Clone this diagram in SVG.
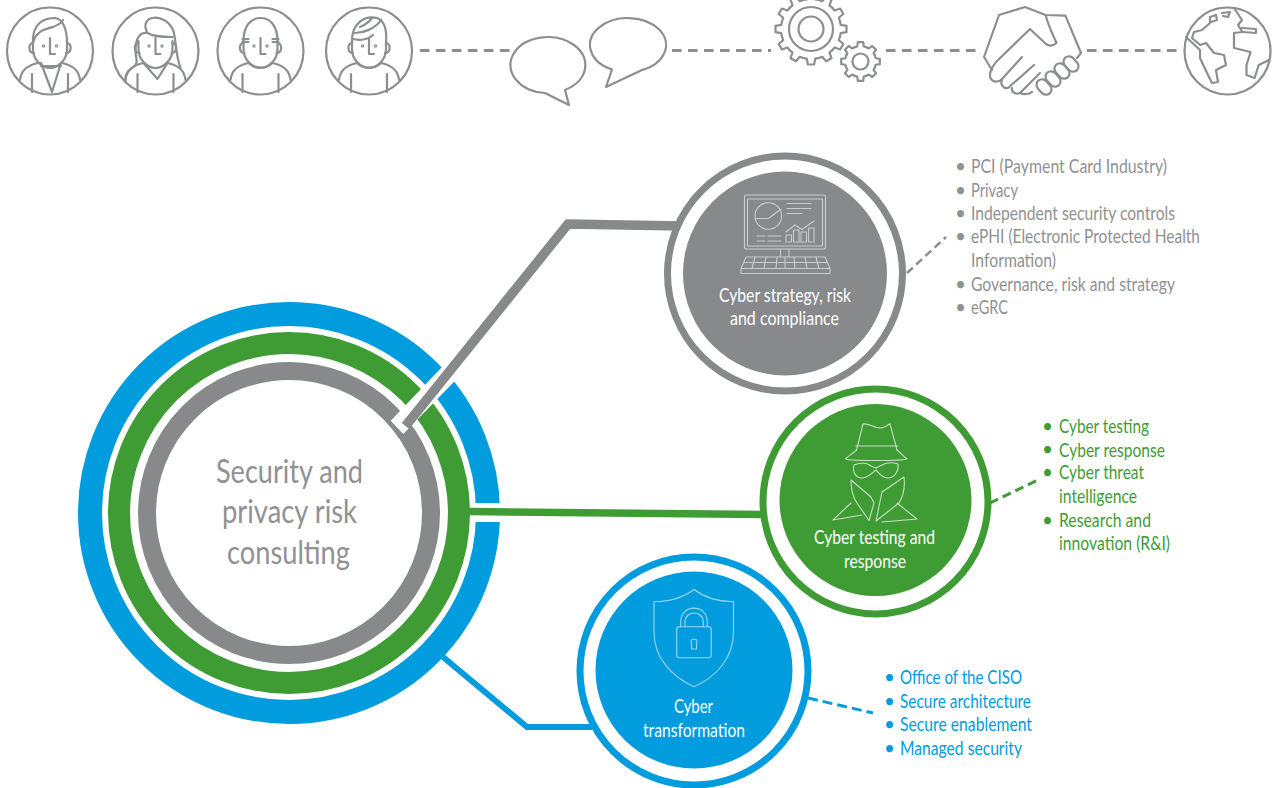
<svg xmlns="http://www.w3.org/2000/svg" xmlns:xlink="http://www.w3.org/1999/xlink" width="1274" height="788" viewBox="0 0 1274 788">
<style>
text{font-family:Lato,"Open Sans","Liberation Sans",sans-serif}
.ic{fill:none;stroke:#8c8e90;stroke-width:2.2;stroke-linejoin:round;stroke-linecap:round}
.wi{fill:none;stroke-width:1.1;stroke-linejoin:round;stroke-linecap:round}
.ring{fill:none}
.nt{font-size:19px;fill:#fff;text-anchor:start}
.big{font-size:33px;fill:#8f9193}
.lg{font-size:19px;fill:#8f9193}
.lgn{font-size:19px;fill:#3f9c35}
.lb{font-size:19px;fill:#009cde}
.dash{fill:none;stroke:#8c8e90;stroke-width:3;stroke-dasharray:9.5 6.5}
</style>
<defs>
<g id="pb" class="ic">
<ellipse rx="43" ry="43.5"/>
<path d="M-17,-8C-22,-8-22,2-16,2M17,-8C22,-8 22,2 16,2"/>
<path d="M0,-13L0,3L5,3"/>
<circle cx="-6.5" cy="-5" r=".6"/><circle cx="6.5" cy="-5" r=".6"/>
<path d="M-30,29C-29,19-22,14-12,12M30,29C29,19 22,14 12,12M-18,41L-18,23M18,41L18,23"/>
<path d="M-17,-10L-17,-2C-17,9-8,17 0,17C8,17 17,9 17,-2L17,-10"/>
</g>
<path id="t1" d="M-7.76,-28.98L-4.18,-29.7L-3.14,-35.5L3.14,-35.5L4.18,-29.7L7.76,-28.98"/>
<path id="t2" d="M-5.93,-14.32L-3.22,-15.16L-2.71,-19.31L2.71,-19.31L3.22,-15.16L5.93,-14.32"/>
<rect id="fg" x="-8.5" y="-5.5" width="17" height="11" rx="5.5"/>
</defs>

<g id="top-connectors">
<path class="dash" d="M420,50.5H510M672,50.5H771M886,50.5H979M1087,50.5H1180"/>
</g>

<g id="person-1" transform="translate(50,51)">
<use href="#pb"/>
<path class="ic" d="M-17,-8C-18,-28-6,-33 5,-33C13,-32 17,-22 17,-8M-17,-8C-14,-20-5,-22 3,-24C8,-26 12,-28 13,-31M-9,12L2,41L11,12M-9,15L11,15"/>
</g>
<g id="person-2" transform="translate(155.500,51)">
<use href="#pb"/>
<path class="ic" d="M-8,-18C-18,-36 10,-40 18,-20C21,-8 20,4 25,17M-8,-18C-18,-20-20,-8-20,0C-20,8-17,10-20,14C-24,18-31,20-30,30M-8,-18C-2,-14 10,-14 17,-14M-12,12L2,28L12,12"/>
</g>
<g id="person-3" transform="translate(260.500,51)">
<use href="#pb"/>
<path class="ic" d="M-17,-10C-17,-26-9,-33 0,-33C9,-33 17,-26 17,-10M-18,-12H-12M-18,-9H-12M12,-12H18M12,-9H18M-12,12C-6,18 6,18 12,12"/>
</g>
<g id="person-4" transform="translate(369,51)">
<use href="#pb"/>
<path class="ic" d="M-17,-8C-18,-28-4,-36 8,-33C16,-30 18,-20 17,-8M-14,-18C-6,-18 6,-22 12,-31M-16,-12C-8,-10 0,-12 4,-16M-9,-24C-4,-26 0,-29 3,-33M-12,12C-6,18 6,18 12,12"/>
</g>

<g id="speech-bubbles" class="ic">
<path d="M565,90L569,105L545,93A37.500,28 0 1 1 565,90Z"/>
<path d="M612,69.500L606,87L641,70.400A38,27 0 1 0 612,69.500Z"/>
</g>

<g id="gears" class="ic">
<g transform="translate(811,29)">
<circle r="22"/><circle r="12.500"/>
<use href="#t1"/><use href="#t1" transform="rotate(30)"/><use href="#t1" transform="rotate(60)"/><use href="#t1" transform="rotate(90)"/><use href="#t1" transform="rotate(120)"/><use href="#t1" transform="rotate(150)"/><use href="#t1" transform="rotate(180)"/><use href="#t1" transform="rotate(210)"/><use href="#t1" transform="rotate(240)"/><use href="#t1" transform="rotate(270)"/><use href="#t1" transform="rotate(300)"/><use href="#t1" transform="rotate(330)"/>
</g>
<g transform="translate(860.500,61.500)">
<circle r="8"/>
<use href="#t2"/><use href="#t2" transform="rotate(45)"/><use href="#t2" transform="rotate(90)"/><use href="#t2" transform="rotate(135)"/><use href="#t2" transform="rotate(180)"/><use href="#t2" transform="rotate(225)"/><use href="#t2" transform="rotate(270)"/><use href="#t2" transform="rotate(315)"/>
</g>
</g>

<g id="handshake" class="ic">
<path d="M992,70L984,57L999,15L1025,7L1045.600,15L1065.400,15.700L1081,53L1077,58"/>
<path d="M1045.600,15C1048,25 1053,35 1056.500,43C1053,46 1049,46 1046,44L1030,29L996,62L992,68C990,72 989,76 991,79C994,83 999,82 1002,79L1022,57M1002,80C1000,84 1003,89 1008,88L1034,65M1012,88C1011,92 1016,95 1020,93L1040,73M1020,93C1024,95 1030,94 1032,92"/>
<use href="#fg" transform="translate(1071,64) rotate(48)"/>
<use href="#fg" transform="translate(1062,71) rotate(48)"/>
<use href="#fg" transform="translate(1053,79) rotate(48)"/>
<use href="#fg" transform="translate(1044,87) rotate(48)"/>
</g>

<g id="globe" class="ic">
<ellipse cx="1227.500" cy="51" rx="43" ry="43.500"/>
<path d="M1210,17L1210,23L1202,30L1194,32L1192,38L1200,45L1206,43L1214,53L1224,55L1226,65L1216,70L1218,82L1212,83L1208,75L1200,58L1200,50L1186,37"/>
<path d="M1234,8L1242,20L1238,25L1242.500,32L1234,33L1234,48L1250.600,52L1246.500,65L1246.500,75L1254.600,78L1258.700,65L1269,60"/>
<path d="M1210,17L1216,15L1217,20L1211,22M1222,13L1230,12L1228,17L1223,16M1242,28L1256,29L1256,33L1243,32"/>
</g>

<g id="central-node">
<circle class="ring" cx="289" cy="513" r="199" stroke="#009cde" stroke-width="24"/>
<circle class="ring" cx="289" cy="513" r="170" stroke="#3f9c35" stroke-width="22"/>
<circle class="ring" cx="289" cy="513" r="142" stroke="#87898b" stroke-width="18"/>
<polygon points="390.700,420.700 403.300,434 480,355 465,343" fill="#fff"/>
<rect x="470" y="503" width="32" height="19" fill="#fff"/>
<text class="big" x="216" y="483" textLength="147" lengthAdjust="spacingAndGlyphs">Security and</text>
<text class="big" x="222" y="523" textLength="135" lengthAdjust="spacingAndGlyphs">privacy risk</text>
<text class="big" x="227" y="564" textLength="123" lengthAdjust="spacingAndGlyphs">consulting</text>
</g>

<g id="connectors" fill="none" stroke-linejoin="miter">
<polyline points="405.500,426 568,224 682,226" stroke="#87898b" stroke-width="9.500"/>
<polyline points="470,511.500 764,514.500" stroke="#3f9c35" stroke-width="7.500"/>
<polyline points="443,657 527,727 592,727" stroke="#009cde" stroke-width="6"/>
<path d="M907,273L946,237" stroke="#8c8e90" stroke-width="2.500" stroke-dasharray="8 4.500"/>
<path d="M990,503L1040,479" stroke="#3f9c35" stroke-width="3" stroke-dasharray="9 5"/>
<path d="M808,698L873,713" stroke="#009cde" stroke-width="3" stroke-dasharray="10 5"/>
</g>

<g id="node-strategy">
<circle cx="785" cy="273.500" r="117.500" fill="#fff" stroke="#87898b" stroke-width="7"/>
<circle cx="785" cy="273.500" r="102" fill="#87898b"/>
<g class="wi" stroke="#c9cbcc">
<rect x="744.500" y="195" width="81" height="54" rx="2"/>
<rect x="747.500" y="199" width="75" height="47"/>
<circle cx="768.300" cy="216" r="13.300"/>
<path d="M755,218.500H768.500L781,209M787,203.500H811M787,208.500H811M787,213.500H802M757,236H765M768,236H781M757,241H765M768,241H781"/>
<path d="M786,232L795,225L802,229.500L814,221"/>
<rect x="786" y="235" width="5.500" height="7"/><rect x="793.500" y="230" width="5.500" height="12"/><rect x="801" y="232" width="5.500" height="10"/><rect x="808.500" y="228" width="5.500" height="14"/>
<path d="M780.500,249V257M789,249V257"/>
<path d="M746,257H825L830,268.500H741ZM741,268.500V273.500H830V268.500M744,262.500H827"/>
<path d="M755,257L752,268.500M766,257L764,268.500M777,257L776,268.500M785,257V268.500M794,257L795,268.500M805,257L807,268.500M816,257L819,268.500"/>
</g>
<text class="nt" x="719" y="302" textLength="132" lengthAdjust="spacingAndGlyphs">Cyber strategy, risk</text>
<text class="nt" x="730" y="325" textLength="109" lengthAdjust="spacingAndGlyphs">and compliance</text>
</g>

<g id="node-testing">
<circle cx="875.500" cy="501.500" r="112.500" fill="#fff" stroke="#3f9c35" stroke-width="7"/>
<circle cx="875.500" cy="500" r="96" fill="#3f9c35"/>
<g class="wi" stroke="#c5e0c1">
<path d="M856.500,450L863,424C868,423 875,428 880,428C885,428 890,423 890,424L897,450"/>
<path d="M856,446H898M856.500,450C852,454 847,457 845.500,459C850,461 900,461 907,459C904,457 901,453 897,450"/>
<path d="M854,465C860,462 868,463 871,466L876,468L880,466C885,463 892,462 898,464C899,470 895,478 888,478C882,478 878,472 876,470C873,472 868,478 862,478C856,478 852,472 854,465Z"/>
<path d="M851,480L871,497L874,503L869,520.500L857,503C852,496 851,488 851,480Z"/>
<path d="M904,477L882,492L876,521L899,503C904,495 905,486 904,477Z"/>
<path d="M851,503L833,520L862,515M897,503L917,519L882,522"/>
</g>
<text class="nt" x="814" y="544" textLength="121" lengthAdjust="spacingAndGlyphs">Cyber testing and</text>
<text class="nt" x="844" y="568" textLength="62" lengthAdjust="spacingAndGlyphs">response</text>
</g>

<g id="node-transformation">
<circle cx="694" cy="671" r="114" fill="#fff" stroke="#009cde" stroke-width="7"/>
<circle cx="694" cy="670" r="98.500" fill="#009cde"/>
<g class="wi" stroke="#9ad7f1">
<path d="M694,589.500C684,597 670,601.700 654,601.700V632C654,658 672,677 694,686.700C716,677 733.500,658 733.500,632V601.700C717,601.700 704,597 694,589.500Z"/>
<rect x="676.700" y="626.700" width="34.500" height="31" rx="2.500"/>
<path d="M680.700,626.700V622C680.700,603.500 707.300,603.500 707.300,622V626.700M685,626.700V622C685,610 703.300,610 703.300,622V626.700"/>
<path d="M691.500,643C688.500,638 699.500,638 696.500,643V649H691.500Z"/>
</g>
<text class="nt" x="674" y="713" textLength="39" lengthAdjust="spacingAndGlyphs">Cyber</text>
<text class="nt" x="643" y="737" textLength="102" lengthAdjust="spacingAndGlyphs">transformation</text>
</g>

<g id="list-strategy">
<text class="lg" x="955" y="173">•</text><text class="lg" x="971" y="173" textLength="196" lengthAdjust="spacingAndGlyphs">PCI (Payment Card Industry)</text>
<text class="lg" x="955" y="197">•</text><text class="lg" x="971" y="197" textLength="47" lengthAdjust="spacingAndGlyphs">Privacy</text>
<text class="lg" x="955" y="220">•</text><text class="lg" x="971" y="220" textLength="204" lengthAdjust="spacingAndGlyphs">Independent security controls</text>
<text class="lg" x="955" y="243">•</text><text class="lg" x="971" y="243" textLength="229" lengthAdjust="spacingAndGlyphs">ePHI (Electronic Protected Health</text>
<text class="lg" x="971" y="267" textLength="85" lengthAdjust="spacingAndGlyphs">Information)</text>
<text class="lg" x="955" y="291">•</text><text class="lg" x="971" y="291" textLength="204" lengthAdjust="spacingAndGlyphs">Governance, risk and strategy</text>
<text class="lg" x="955" y="314">•</text><text class="lg" x="971" y="314" textLength="37" lengthAdjust="spacingAndGlyphs">eGRC</text>
</g>

<g id="list-testing">
<text class="lgn" x="1042" y="433">•</text><text class="lgn" x="1059" y="433" textLength="90" lengthAdjust="spacingAndGlyphs">Cyber testing</text>
<text class="lgn" x="1042" y="456">•</text><text class="lgn" x="1059" y="457" textLength="106" lengthAdjust="spacingAndGlyphs">Cyber response</text>
<text class="lgn" x="1042" y="479">•</text><text class="lgn" x="1059" y="479" textLength="85" lengthAdjust="spacingAndGlyphs">Cyber threat</text>
<text class="lgn" x="1059" y="503" textLength="78" lengthAdjust="spacingAndGlyphs">intelligence</text>
<text class="lgn" x="1042" y="527">•</text><text class="lgn" x="1059" y="527" textLength="92" lengthAdjust="spacingAndGlyphs">Research and</text>
<text class="lgn" x="1059" y="550" textLength="111" lengthAdjust="spacingAndGlyphs">innovation (R&amp;I)</text>
</g>

<g id="list-transformation">
<text class="lb" x="884" y="684">•</text><text class="lb" x="900" y="684" textLength="122" lengthAdjust="spacingAndGlyphs">Office of the CISO</text>
<text class="lb" x="884" y="708">•</text><text class="lb" x="900" y="708" textLength="131" lengthAdjust="spacingAndGlyphs">Secure architecture</text>
<text class="lb" x="884" y="731">•</text><text class="lb" x="900" y="731" textLength="132" lengthAdjust="spacingAndGlyphs">Secure enablement</text>
<text class="lb" x="884" y="755">•</text><text class="lb" x="900" y="755" textLength="122" lengthAdjust="spacingAndGlyphs">Managed security</text>
</g>
</svg>
